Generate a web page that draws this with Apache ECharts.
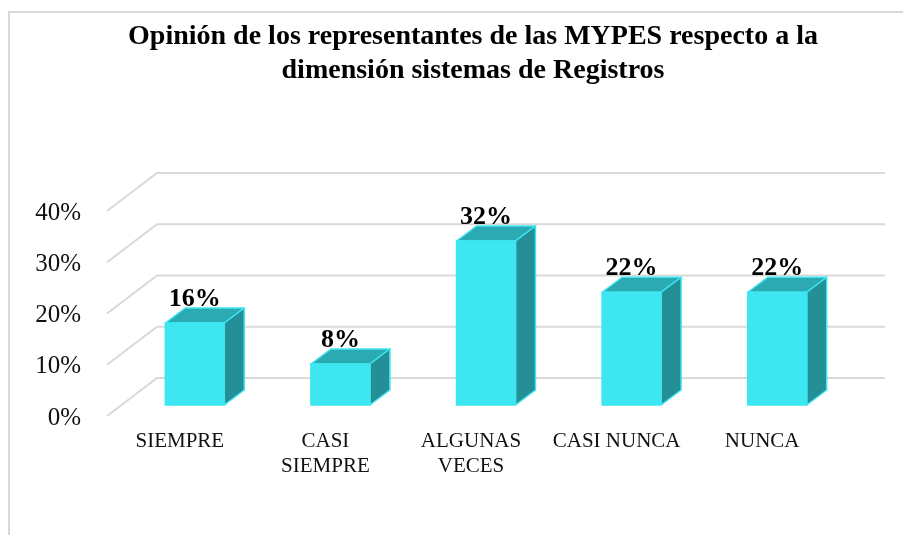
<!DOCTYPE html>
<html><head><meta charset="utf-8">
<style>html,body{margin:0;padding:0;background:#fff}#c{width:903px;height:535px}</style>
<script src="https://cdn.jsdelivr.net/npm/echarts@6/dist/echarts.min.js"></script>
</head><body><div id="c"></div>
<script>
const categories = ["SIEMPRE", "CASI\nSIEMPRE", "ALGUNAS\nVECES", "CASI NUNCA", "NUNCA"];
const values = [16, 8, 32, 22, 22];
const ticks = [0, 10, 20, 30, 40];
const titleText = "Opinión de los representantes de las MYPES respecto a la\ndimensión sistemas de Registros";
const FONT = '"Liberation Serif","Times New Roman",serif';
const chart = echarts.init(document.getElementById('c'), null, {renderer: 'canvas'});

function renderWall(params, api) {
  const y = api.coord([0, api.value(1)])[1];
  const cs = params.coordSys;
  const stroke = {stroke: '#d9d9d9', lineWidth: 2, fill: 'none'};
  return {type: 'polyline', silent: true,
    shape: {points: [[cs.x, y], [cs.x + 50, y - 38], [cs.x + cs.width + 50, y - 38]]},
    style: stroke};
}
function renderBar(params, api) {
  const c = api.coord([api.value(0), api.value(1)]);
  const base = api.coord([api.value(0), 0])[1];
  const w = api.size([1, 0])[0] * 0.405;
  const l = c[0] - w / 2, r = c[0] + w / 2, t = c[1], dx = 20, dy = -15;
  const edge = {stroke: '#3de6f0', lineWidth: 1.5, lineJoin: 'round'};
  return {type: 'group', children: [
    {type: 'text', style: {text: api.value(1) + '%', x: c[0], y: t - 24, align: 'center', verticalAlign: 'middle',
      font: 'bold 26px ' + FONT, fill: '#000'}},
    {type: 'polygon', shape: {points: [[l, t], [r, t], [r + dx, t + dy], [l + dx, t + dy]]},
      style: Object.assign({fill: '#2caab4'}, edge)},
    {type: 'polygon', shape: {points: [[r, t], [r + dx, t + dy], [r + dx, base + dy], [r, base]]},
      style: Object.assign({fill: '#258f97'}, edge)},
    {type: 'rect', shape: {x: l, y: t, width: w, height: base - t},
      style: Object.assign({fill: '#3de6f0'}, edge)}
  ]};
}
chart.setOption({
  animation: false,
  backgroundColor: '#fff',
  title: {text: titleText, left: 468, top: 15, textAlign: 'center',
    textStyle: {fontFamily: FONT, fontWeight: 'bold', fontSize: 28, lineHeight: 34, color: '#000'}},
  graphic: [{type: 'rect', silent: true, z: -10, shape: {x: 9, y: 12, width: 1000, height: 1000},
    style: {fill: 'none', stroke: '#d9d9d9', lineWidth: 2}}],
  grid: [
    {left: 107, top: 211, width: 728, height: 205},
    {left: 122, top: 200, width: 728, height: 205}
  ],
  xAxis: [
    {type: 'category', gridIndex: 0, data: categories,
      axisLine: {show: false}, axisTick: {show: false},
      axisLabel: {interval: 0, margin: 13, fontFamily: FONT, fontSize: 21, lineHeight: 25, color: '#111'}},
    {type: 'category', gridIndex: 1, data: categories, show: false}
  ],
  yAxis: [
    {type: 'value', gridIndex: 0, min: 0, max: 40, interval: 10,
      axisLine: {show: false}, axisTick: {show: false}, splitLine: {show: false},
      axisLabel: {margin: 26, formatter: '{a|{value}%}', color: '#111',
        rich: {a: {padding: [4, 0, 0, 0], fontFamily: FONT, fontSize: 25, color: '#111'}}}},
    {type: 'value', gridIndex: 1, min: 0, max: 40, interval: 10, show: false, splitLine: {show: false}}
  ],
  series: [
    {type: 'custom', xAxisIndex: 0, yAxisIndex: 0, z: 1, silent: true, clip: false,
      renderItem: renderWall, data: ticks.map(v => [0, v])},
    {type: 'custom', xAxisIndex: 1, yAxisIndex: 1, z: 2, silent: true, clip: false,
      renderItem: renderBar, data: values.map((v, i) => [i, v])}
  ]
});
</script></body></html>
